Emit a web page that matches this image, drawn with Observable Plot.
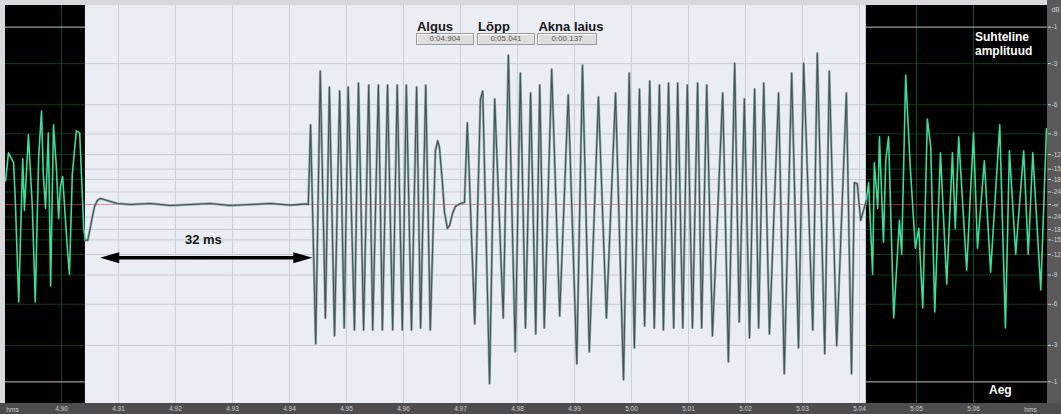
<!DOCTYPE html>
<html>
<head>
<meta charset="utf-8">
<script src="https://cdn.jsdelivr.net/npm/d3@7"></script>
<script src="https://cdn.jsdelivr.net/npm/@observablehq/plot@0.6"></script>
<style>
  body { margin: 0; background: #d9d9db; font-family: "Liberation Sans", Arial, sans-serif; }
  #wrap { position: relative; width: 1061px; height: 414px; overflow: hidden; }
  .hd { position: absolute; font-weight: bold; font-size: 13px; color: #151515; text-align: center; }
  .bx { position: absolute; height: 10px; background: #dedede; border: 1px solid #9a9a9a; box-shadow: inset 1px 1px 0 #fff; font-size: 8px; line-height: 10px; text-align: center; color: #555; }
  .wl { position: absolute; color: #fff; font-weight: bold; font-size: 12px; line-height: 14px; }
</style>
</head>
<body>
<div id="wrap"></div>
<script>
// ---------- data (time in ms, amplitude relative to full scale) ----------
const leftTime = [4890.2, 4890.7, 4891.6, 4891.9, 4892.5, 4893.2, 4893.5, 4894.2, 4894.9, 4895.4, 4896.0, 4896.5, 4896.8, 4897.2, 4897.7, 4898.1, 4898.6, 4899.1, 4899.5, 4899.8, 4900.2, 4901.1, 4901.4, 4901.9, 4902.6, 4903.2, 4903.9, 4904.2];
const leftAmp  = [0.12, 0.26, 0.21, 0.02, -0.49, 0.23, -0.03, 0.35, -0.02, -0.49, 0.24, 0.47, 0.16, -0.02, 0.36, -0.41, 0.40, 0.19, -0.07, 0.09, 0.14, -0.25, -0.35, 0.15, 0.37, 0.36, -0.12, -0.18];

const mainTime = [4904.2, 4904.6, 4904.9, 4905.4, 4905.8, 4906.3, 4906.8, 4907.5, 4908.6, 4909.8, 4912.1, 4915.6, 4919.1, 4922.6, 4926.1, 4929.6, 4933.2, 4936.7, 4940.2, 4943.0, 4943.3,
  4943.7, 4944.6, 4945.4, 4946.3, 4947.0, 4947.9, 4948.8, 4949.6, 4950.3, 4951.4, 4952.1, 4953.0, 4953.9, 4954.6, 4955.6, 4956.3, 4957.2, 4958.1, 4958.9, 4959.8, 4960.5, 4961.4, 4962.3, 4963.0, 4963.9, 4964.7,
  4965.6, 4966.0, 4966.3, 4966.8, 4967.2, 4967.7, 4968.1, 4968.6, 4969.1, 4970.0, 4970.7,
  4971.2, 4972.5, 4973.5, 4973.9, 4975.1, 4976.0, 4977.5, 4978.4, 4979.6, 4980.5, 4981.4, 4982.3, 4983.2, 4983.9, 4984.7, 4986.0, 4987.4, 4988.9, 4990.4, 4991.4,
  4992.6, 4994.2, 4995.6, 4997.2, 4998.6, 4999.6, 5000.5, 5001.4, 5002.3, 5003.2, 5004.0, 5004.9, 5005.6, 5006.5, 5007.4, 5008.1, 5009.0, 5009.8, 5010.7, 5011.6,
  5012.3, 5013.2, 5014.2, 5016.0, 5017.0, 5018.1, 5018.9, 5019.8, 5020.7, 5021.6, 5022.3, 5023.2, 5024.2, 5025.8, 5026.8, 5028.1, 5029.3, 5030.2, 5031.8, 5032.6,
  5033.9, 5034.7, 5036.0, 5037.7, 5038.6, 5039.1, 5039.6, 5040.2, 5041.2];
const mainAmp = [-0.18, -0.18, -0.14, -0.065, -0.01, 0.02, 0.03, 0.025, 0.015, 0.005, 0.0, 0.005, -0.005, 0.0, 0.005, -0.005, 0.0, 0.005, -0.003, 0.003, 0.0,
  0.40, -0.70, 0.67, -0.57, 0.59, -0.66, 0.57, -0.62, 0.59, -0.63, 0.61, -0.63, 0.60, -0.63, 0.60, -0.63, 0.60, -0.63, 0.60, -0.63, 0.60, -0.63, 0.59, -0.62, 0.60, -0.63,
  0.27, 0.32, 0.29, 0.12, -0.04, -0.12, -0.105, -0.045, -0.01, 0.005, 0.01,
  0.41, -0.60, 0.53, 0.57, -0.90, 0.53, -0.57, 0.75, -0.74, 0.66, -0.62, 0.56, -0.65, 0.60, -0.62, 0.68, -0.56, 0.55, -0.80, 0.70,
  -0.74, 0.54, -0.57, 0.56, -0.88, 0.66, -0.72, 0.58, -0.61, 0.62, -0.62, 0.60, -0.63, 0.61, -0.62, 0.61, -0.62, 0.60, -0.62, 0.61,
  -0.62, 0.60, -0.66, 0.56, -0.79, 0.71, -0.59, 0.53, -0.67, 0.58, -0.62, 0.61, -0.65, 0.56, -0.85, 0.66, -0.72, 0.71, -0.63, 0.76,
  -0.75, 0.67, -0.71, 0.56, -0.85, 0.11, 0.105, -0.08, 0.02];

const rightTime = [5041.2, 5041.6, 5042.3, 5042.6, 5043.2, 5043.5, 5044.2, 5044.6, 5045.1, 5046.0, 5047.0, 5047.4, 5048.1, 5048.9, 5049.8, 5050.4, 5051.1, 5051.9, 5052.5, 5053.2, 5054.2, 5055.3, 5056.3, 5056.8, 5057.4, 5058.8, 5060.0, 5060.7, 5061.9, 5063.0, 5064.6, 5065.6, 5066.3, 5067.4, 5068.8, 5069.6, 5070.4, 5071.8, 5072.8];
const rightAmp  = [0.02, 0.11, -0.35, 0.21, -0.02, 0.34, -0.19, 0.22, 0.34, -0.57, -0.08, -0.25, 0.65, 0.19, -0.22, -0.12, -0.52, 0.43, 0.29, -0.54, 0.26, -0.40, 0.26, -0.12, 0.34, -0.33, 0.36, -0.22, 0.22, -0.34, 0.40, -0.62, 0.27, -0.25, 0.27, -0.25, 0.26, -0.43, 0.38];

const viewRange = [4890.18, 5072.98];           // visible time window (ms)
const selection = [4904.2, 5041.2];             // Algus / Lõpp (ms)
const timeTickLabels = ["4.90", "4.91", "4.92", "4.93", "4.94", "4.95", "4.96", "4.97", "4.98", "4.99", "5.00", "5.01", "5.02", "5.03", "5.04", "5.05", "5.06"];
const dbLevels = [-1, -3, -6, -9, -12, -15, -18, -24];
const arrowSpan = [4906.8, 4944.0];             // the "32 ms" gap arrow
const arrowLevel = [-0.267];
const gapLabel = ["32 ms"];
const gapLabelPos = [4924.9];
const gapLabelLevel = [-0.18];
const headers = ["Algus", "Lõpp", "Akna laius"];
const sideTitle = ["Suhteline", "amplituud"];
const timeTitle = "Aeg";

// ---------- derived ----------
const tickValues = timeTickLabels.map(s => +s * 1000);
const dbAmp = d => Math.pow(10, d / 20);
const gridInner = dbLevels.filter(d => d !== -1).flatMap(d => [dbAmp(d), -dbAmp(d)]);
const gridOuter = [dbAmp(-1), -dbAmp(-1)];
const axisAmps = [...dbLevels.flatMap(d => [dbAmp(d), -dbAmp(d)]), 0];
const inSel = t => t > selection[0] && t < selection[1];
const ticksIn = tickValues.filter(inSel);
const ticksOut = tickValues.filter(t => !inSel(t));
const idx = a => a.map((_, i) => i);

const headLeft = { draw(c) { c.moveTo(0, 0); c.lineTo(19, -5.5); c.lineTo(19, 5.5); c.closePath(); } };
const headRight = { draw(c) { c.moveTo(0, 0); c.lineTo(-19, -5.5); c.lineTo(-19, 5.5); c.closePath(); } };

const darkGreen = "#0f3c14";
const chart = Plot.plot({
  width: 1061, height: 414,
  marginLeft: 5, marginRight: 14, marginTop: 5, marginBottom: 11,
  style: {
    background: "linear-gradient(to top, #4d4d4d 0, #4d4d4d 11px, transparent 11px), linear-gradient(to left, #5a5a5a 0, #5a5a5a 14px, #d9d9db 14px)",
    fontSize: "6.5px", color: "#cfcfcf", fontFamily: "Liberation Sans, Arial, sans-serif"
  },
  x: { domain: viewRange, ticks: tickValues, tickFormat: d => (d / 1000).toFixed(2), tickSize: 0, tickPadding: 3, label: null },
  y: { domain: [-1, 1], axis: "right", ticks: axisAmps,
       tickFormat: a => a === 0 ? "-∞" : String(Math.round(20 * Math.log10(Math.abs(a)))),
       tickSize: 3, tickPadding: 1, label: null },
  marks: [
    Plot.rect([0], { x1: viewRange[0], x2: viewRange[1], fill: "#000" }),
    Plot.rect([0], { x1: selection[0], x2: selection[1], fill: "#ebedf5" }),
    // black-area grid
    Plot.ruleY(gridInner, { x1: viewRange[0], x2: selection[0], stroke: darkGreen }),
    Plot.ruleY(gridInner, { x1: selection[1], x2: viewRange[1], stroke: darkGreen }),
    Plot.ruleX(ticksOut, { stroke: "#12501a" }),
    Plot.ruleY(gridOuter, { x1: viewRange[0], x2: selection[0], stroke: "#9a9a9a", strokeWidth: 1.2 }),
    Plot.ruleY(gridOuter, { x1: selection[1], x2: viewRange[1], stroke: "#9a9a9a", strokeWidth: 1.2 }),
    // selection grid
    Plot.ruleY(gridInner, { x1: selection[0], x2: selection[1], stroke: "#c7cad4" }),
    Plot.ruleX(ticksIn, { stroke: "#cdd0da" }),
    // zero line
    Plot.ruleY([0], { x1: viewRange[0], x2: selection[0], stroke: "#a3161c" }),
    Plot.ruleY([0], { x1: selection[1], x2: viewRange[1], stroke: "#a3161c" }),
    Plot.ruleY([0], { x1: selection[0], x2: selection[1], stroke: "#e27b7b", strokeWidth: 0.8 }),
    // waveform
    Plot.line(idx(leftTime), { x: leftTime, y: leftAmp, stroke: "#3fdc97", strokeWidth: 1.6 }),
    Plot.line(idx(rightTime), { x: rightTime, y: rightAmp, stroke: "#3fdc97", strokeWidth: 1.6 }),
    Plot.line(idx(mainTime), { x: mainTime, y: mainAmp, stroke: "#94a8a8", strokeWidth: 2.4 }),
    Plot.line(idx(mainTime), { x: mainTime, y: mainAmp, stroke: "#3e5656", strokeWidth: 1.1 }),
    // gap arrow
    Plot.link([0], { x1: arrowSpan[0] + 2, x2: arrowSpan[1] - 2, y1: arrowLevel[0], y2: arrowLevel[0], stroke: "#000", strokeWidth: 3.5 }),
    Plot.dot([0], { x: arrowSpan[0], y: arrowLevel[0], symbol: headLeft, fill: "#000", stroke: "none" }),
    Plot.dot([0], { x: arrowSpan[1], y: arrowLevel[0], symbol: headRight, fill: "#000", stroke: "none" }),
    Plot.text(gapLabel, { x: gapLabelPos, y: gapLabelLevel, text: d => d, fontSize: 13, fontWeight: "bold", fill: "#151515" }),
    // axis extras
    Plot.text(["dB"], { frameAnchor: "top-right", dx: 8, dy: 2, text: d => d, fill: "#cfcfcf", textAnchor: "middle" }),
    Plot.text(["hms"], { frameAnchor: "bottom-left", dx: 7, dy: 8, text: d => d, fill: "#cfcfcf", textAnchor: "middle" }),
    Plot.text(["hms"], { frameAnchor: "bottom-right", dx: -17, dy: 8, text: d => d, fill: "#cfcfcf", textAnchor: "middle" })
  ]
});

const wrap = document.getElementById("wrap");
wrap.appendChild(chart);

// ---------- overlay: selection read-out and titles ----------
const fmt = ms => "0:0" + (ms / 1000).toFixed(3);
const readouts = [fmt(selection[0]), fmt(selection[1]), fmt(selection[1] - selection[0])];
const hdPos = [[405, 60], [465, 58], [536, 70]];
const bxPos = [[416, 56], [477, 56], [537, 58]];
headers.forEach((h, i) => {
  const d = document.createElement("div");
  d.className = "hd"; d.textContent = h;
  d.style.left = hdPos[i][0] + "px"; d.style.width = hdPos[i][1] + "px"; d.style.top = "19px";
  wrap.appendChild(d);
  const b = document.createElement("div");
  b.className = "bx"; b.textContent = readouts[i];
  b.style.left = bxPos[i][0] + "px"; b.style.width = bxPos[i][1] + "px"; b.style.top = "33px";
  wrap.appendChild(b);
});
const st = document.createElement("div");
st.className = "wl"; st.innerHTML = sideTitle.join("<br>");
st.style.left = "975px"; st.style.top = "30px";
wrap.appendChild(st);
const tt = document.createElement("div");
tt.className = "wl"; tt.textContent = timeTitle;
tt.style.left = "989px"; tt.style.top = "383px";
wrap.appendChild(tt);
</script>
</body>
</html>
